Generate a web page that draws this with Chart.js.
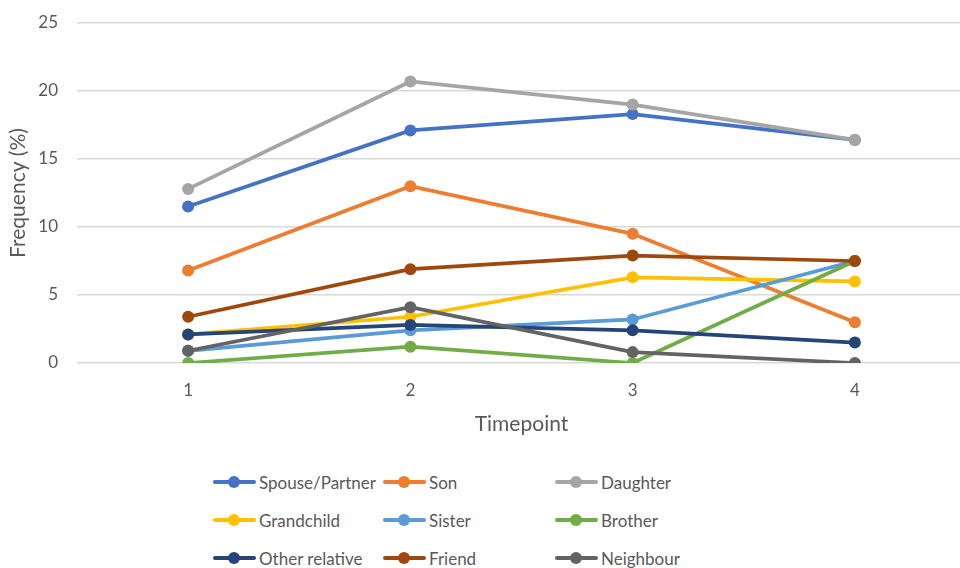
<!DOCTYPE html>
<html>
<head>
<meta charset="utf-8">
<script src="https://cdn.jsdelivr.net/npm/chart.js@4.4.0/dist/chart.umd.min.js"></script>
<style>
  html, body { margin: 0; padding: 0; background: #fff; overflow: hidden; }
  #wrap { position: relative; width: 960px; height: 568px; overflow: hidden; }
  #box { position: absolute; left: 0; top: 0; width: 980px; height: 451px; }
  #legend { position: absolute; left: 213px; top: 468px; font-family: Lato, sans-serif; font-size: 17px; color: #595959; }
  .row { height: 38px; position: relative; }
  .item { position: absolute; top: 0; height: 28px; display: flex; align-items: center; white-space: nowrap; }
  .swatch { position: relative; width: 43px; height: 28px; margin-right: 3px; }
  .swatch .ln { position: absolute; left: 0; right: 0; top: 12px; height: 4px; border-radius: 2px; }
  .swatch .dot { position: absolute; left: 15px; top: 8px; width: 12px; height: 12px; border-radius: 50%; }
</style>
</head>
<body>
<div id="wrap">
  <div id="box"><canvas id="chart"></canvas></div>
  <div id="legend"></div>
</div>
<script>
const timepoints = ["1", "2", "3", "4"];
const seriesNames = ["Spouse/Partner", "Son", "Daughter", "Grandchild", "Sister", "Brother", "Other relative", "Friend", "Neighbour"];
const colors = ["#4472C4", "#ED7D31", "#A5A5A5", "#FFC000", "#5B9BD5", "#70AD47", "#264478", "#9E480E", "#636363"];

const spousePartner = [11.5, 17.1, 18.3, 16.4];
const son = [6.8, 13.0, 9.5, 3.0];
const daughter = [12.8, 20.7, 19.0, 16.4];
const grandchild = [2.1, 3.4, 6.3, 6.0];
const sister = [0.9, 2.4, 3.2, 7.5];
const brother = [0, 1.2, 0, 7.5];
const otherRelative = [2.1, 2.8, 2.4, 1.5];
const friend = [3.4, 6.9, 7.9, 7.5];
const neighbour = [0.9, 4.1, 0.8, 0];

const seriesValues = [spousePartner, son, daughter, grandchild, sister, brother, otherRelative, friend, neighbour];

const textColor = "#595959";
const tickFont = { family: "Lato, sans-serif", size: 17 };
const titleFont = { family: "Lato, sans-serif", size: 21 };

const datasets = seriesNames.map((name, i) => ({
  label: name,
  data: seriesValues[i],
  borderColor: colors[i],
  backgroundColor: colors[i],
  borderWidth: 3.75,
  pointRadius: 6,
  pointBorderWidth: 0,
  pointBackgroundColor: colors[i],
  // later series sit on top, like the original
  order: seriesNames.length - i,
  tension: 0
}));

const ctx = document.getElementById("chart").getContext("2d");

let chart = new Chart(ctx, {
  type: "line",
  data: { labels: timepoints, datasets: datasets },
  options: {
    responsive: true,
    maintainAspectRatio: false,
    animation: false,
    layout: { padding: { top: 23, right: 14, bottom: 0, left: 0 } },
    plugins: { legend: { display: false }, tooltip: { enabled: false } },
    scales: {
      x: {
        offset: true,
        grid: { display: false, drawTicks: false },
        border: { display: false },
        ticks: { color: textColor, font: tickFont, padding: 17 },
        title: { display: true, text: "Timepoint", color: textColor, font: titleFont, padding: { top: 0, bottom: 14 } },
        afterFit: (scale) => { scale.height = 88; }
      },
      y: {
        min: 0,
        max: 25,
        grid: { color: "#d9d9d9", lineWidth: 1.5, drawTicks: false },
        border: { display: false },
        ticks: { stepSize: 5, color: textColor, font: tickFont, padding: 19 },
        title: { display: true, text: "Frequency (%)", color: textColor, font: titleFont, padding: { top: 6, bottom: 0 } },
        afterFit: (scale) => {
          scale.width = 77;
          scale.paddingTop = 0;
          scale.paddingBottom = 0;
        }
      }
    }
  }
});

/* HTML LEGEND, 3 COLUMNS */
const legend = document.getElementById("legend");
const colX = [0, 170, 342];
for (let r = 0; r < 3; r++) {
  const row = document.createElement("div");
  row.className = "row";
  for (let c = 0; c < 3; c++) {
    const i = r * 3 + c;
    const item = document.createElement("div");
    item.className = "item";
    item.style.left = colX[c] + "px";
    item.innerHTML = '<div class="swatch"><div class="ln" style="background:' + colors[i] + '"></div>' +
      '<div class="dot" style="background:' + colors[i] + '"></div></div><span>' + seriesNames[i] + '</span>';
    row.appendChild(item);
  }
  legend.appendChild(row);
}
</script>
</body>
</html>
